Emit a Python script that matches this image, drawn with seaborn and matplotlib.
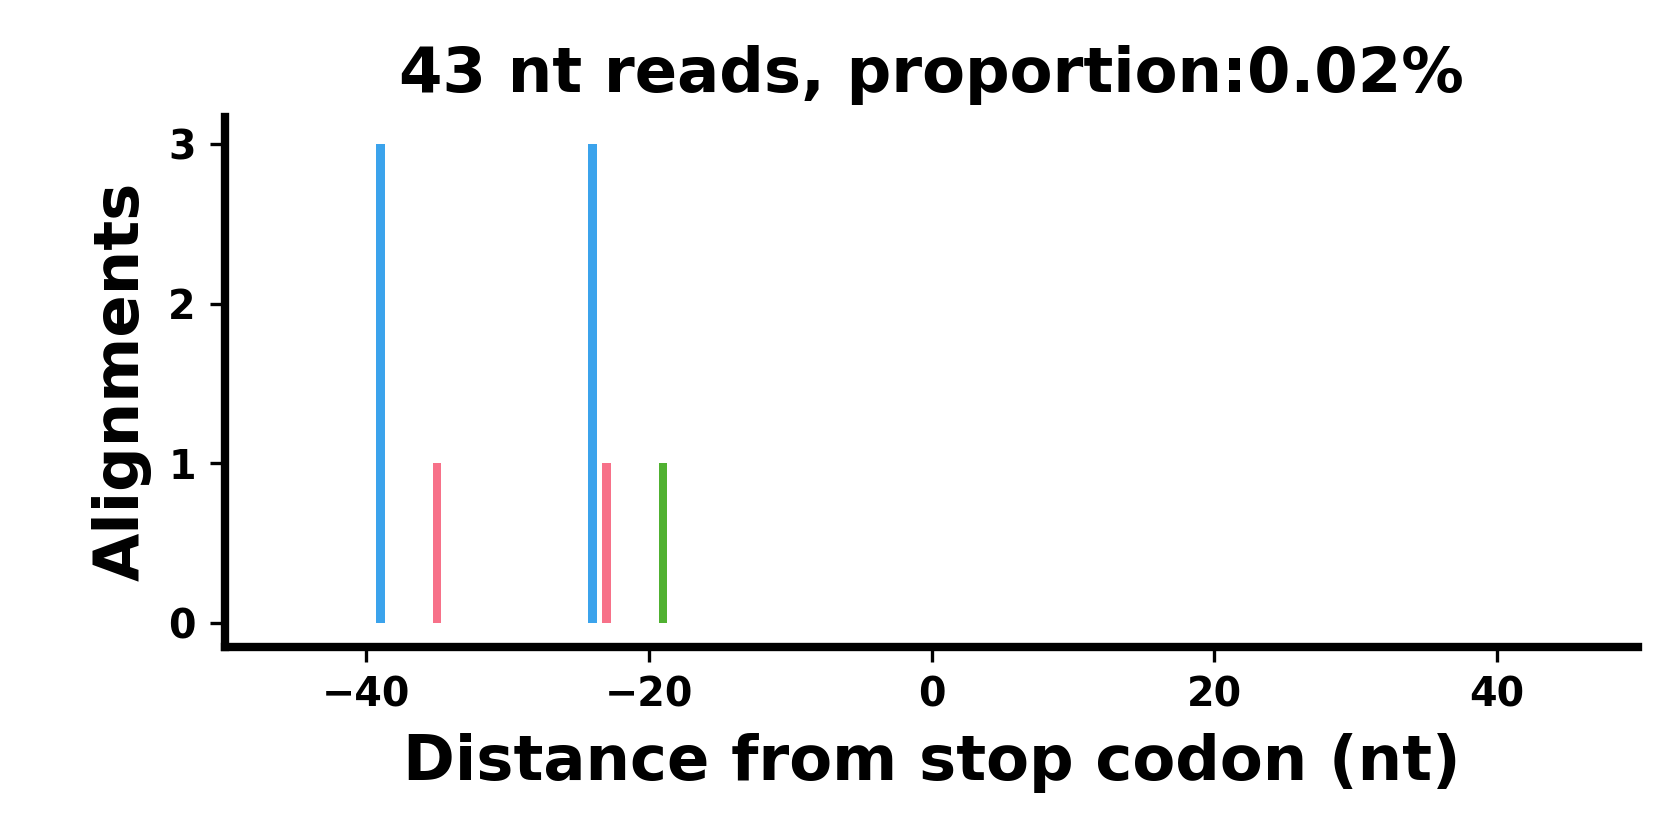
import pandas as pd
import numpy as np
import matplotlib
matplotlib.use("Agg")
import matplotlib.pyplot as plt
import seaborn as sns

# distance from stop codon, alignment counts, reading frame
distance = [-39, -35, -24, -23, -19]
alignments = [3, 1, 3, 1, 1]
frame = [0, 1, 0, 1, 2]

df = pd.DataFrame({"distance": distance, "alignments": alignments, "frame": frame})

sns.set_style("ticks")
plt.rcParams["font.family"] = ["DejaVu Sans"]
plt.rcParams["font.weight"] = "bold"
for k in ["text.color", "axes.labelcolor", "xtick.color", "ytick.color", "axes.edgecolor"]:
    plt.rcParams[k] = "black"

husl = sns.color_palette("husl", 3)
frame_colors = {1: husl[0], 2: husl[1], 0: husl[2]}

fig, ax = plt.subplots(figsize=(5.6, 2.8), dpi=300)
fig.subplots_adjust(left=0.134, right=0.975, bottom=0.230, top=0.861)

sns.barplot(data=df, x="distance", y="alignments", hue="frame", palette=frame_colors,
            native_scale=True, width=0.6, dodge=False, saturation=1, linewidth=0,
            legend=False, ax=ax)

ax.set_xlim(-50, 50)
ax.set_yticks([0, 1, 2, 3])
ax.set_ylim(-0.15, 3.17)
ax.set_xticks([-40, -20, 0, 20, 40])
ax.tick_params(labelsize=9.5)
for lab in ax.get_xticklabels() + ax.get_yticklabels():
    lab.set_fontweight("bold")

ax.set_title("43 nt reads, proportion:0.02%", fontsize=15, fontweight="bold")
ax.set_xlabel("Distance from stop codon (nt)", fontsize=15, fontweight="bold")
ax.set_ylabel("Alignments", fontsize=15, fontweight="bold")

sns.despine(ax=ax)
for s in ["left", "bottom"]:
    ax.spines[s].set_linewidth(2)

fig.savefig("out.png", dpi=300)
